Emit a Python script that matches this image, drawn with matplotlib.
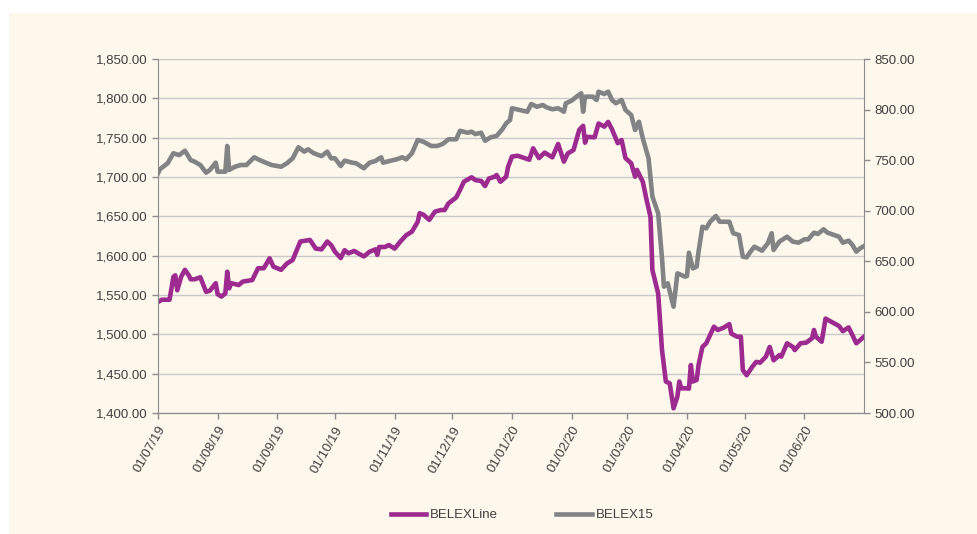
import matplotlib
matplotlib.use("Agg")
import matplotlib.pyplot as plt
import matplotlib.dates as mdates
from matplotlib.patches import Rectangle
from matplotlib.ticker import FuncFormatter, MultipleLocator
import pandas as pd

# BELEXLine (left axis)
line_dates = [
    "2019-07-01", "2019-07-03", "2019-07-07", "2019-07-09", "2019-07-10", "2019-07-11",
    "2019-07-13", "2019-07-15", "2019-07-17", "2019-07-18", "2019-07-20", "2019-07-23",
    "2019-07-26", "2019-07-28", "2019-07-31", "2019-08-01", "2019-08-03", "2019-08-05",
    "2019-08-06", "2019-08-07", "2019-08-08", "2019-08-12", "2019-08-14", "2019-08-19",
    "2019-08-22", "2019-08-25", "2019-08-28", "2019-08-30", "2019-09-03", "2019-09-06",
    "2019-09-09", "2019-09-13", "2019-09-18", "2019-09-21", "2019-09-24", "2019-09-27",
    "2019-09-29", "2019-10-01", "2019-10-04", "2019-10-06", "2019-10-08", "2019-10-11",
    "2019-10-13", "2019-10-16", "2019-10-19", "2019-10-22", "2019-10-23", "2019-10-24",
    "2019-10-27", "2019-10-29", "2019-11-01", "2019-11-04", "2019-11-07", "2019-11-10",
    "2019-11-13", "2019-11-14", "2019-11-16", "2019-11-19", "2019-11-22", "2019-11-25",
    "2019-11-27", "2019-11-29", "2019-12-03", "2019-12-05", "2019-12-07", "2019-12-11",
    "2019-12-13", "2019-12-16", "2019-12-18", "2019-12-20", "2019-12-23", "2019-12-24",
    "2019-12-26", "2019-12-29", "2019-12-30", "2020-01-01", "2020-01-04", "2020-01-10",
    "2020-01-12", "2020-01-15", "2020-01-18", "2020-01-22", "2020-01-25", "2020-01-28",
    "2020-01-30", "2020-02-02", "2020-02-05", "2020-02-07", "2020-02-08", "2020-02-09",
    "2020-02-13", "2020-02-15", "2020-02-18", "2020-02-20", "2020-02-22", "2020-02-25",
    "2020-02-27", "2020-02-29", "2020-03-03", "2020-03-05", "2020-03-06", "2020-03-09",
    "2020-03-11", "2020-03-13", "2020-03-14", "2020-03-17", "2020-03-19", "2020-03-21",
    "2020-03-23", "2020-03-25", "2020-03-27", "2020-03-28", "2020-03-29", "2020-03-31",
    "2020-04-02", "2020-04-03", "2020-04-04", "2020-04-06", "2020-04-07", "2020-04-09",
    "2020-04-11", "2020-04-13", "2020-04-15", "2020-04-17", "2020-04-20", "2020-04-23",
    "2020-04-24", "2020-04-27", "2020-04-29", "2020-04-30", "2020-05-02", "2020-05-05",
    "2020-05-07", "2020-05-09", "2020-05-12", "2020-05-14", "2020-05-16", "2020-05-19",
    "2020-05-20", "2020-05-23", "2020-05-26", "2020-05-27", "2020-05-30", "2020-06-02",
    "2020-06-05", "2020-06-06", "2020-06-07", "2020-06-10", "2020-06-12", "2020-06-15",
    "2020-06-19", "2020-06-21", "2020-06-24", "2020-06-26", "2020-06-28", "2020-06-30",
    "2020-07-02",
]
line_values = [
    1541, 1544, 1544, 1573, 1575, 1556, 1573, 1582, 1575, 1570, 1570, 1572.5,
    1554, 1555.5, 1565, 1551, 1548, 1552, 1579.6, 1558.5, 1565, 1562.7, 1567, 1569,
    1584, 1584, 1596.6, 1586, 1582, 1590, 1594.5, 1618, 1620, 1609, 1608, 1618,
    1613.5, 1605, 1597, 1607, 1603, 1606, 1603, 1599, 1605, 1608, 1601, 1611,
    1611, 1613.5, 1609, 1618, 1626, 1630.5, 1643, 1654, 1652, 1645.5, 1656, 1658,
    1658, 1666.5, 1674, 1683.5, 1694, 1699.6, 1696, 1695, 1688.5, 1698, 1700.4, 1702.5,
    1694, 1700.4, 1713, 1726, 1727, 1722, 1736.5, 1724, 1731, 1725, 1742, 1719.5,
    1730, 1734.3, 1760, 1765, 1743.6, 1751, 1750.5, 1768, 1764, 1770, 1760.6, 1743,
    1747, 1724, 1717.4, 1700.4, 1709, 1694, 1670.7, 1649.5, 1581.8, 1552, 1480, 1440,
    1437.7, 1406, 1421, 1440, 1431.4, 1431.4, 1431, 1461, 1440, 1442, 1461, 1484,
    1488.6, 1499, 1509.7, 1505.5, 1508.4, 1513, 1501, 1497, 1497, 1454.6, 1448, 1459,
    1465, 1464, 1471.6, 1484, 1467, 1473.6, 1471.6, 1488.6, 1484, 1480, 1488.6, 1489.5,
    1495, 1505.5, 1497, 1490.6, 1520, 1516, 1510.6, 1504, 1508.8, 1499, 1488.6, 1492.7,
    1497,
]

# BELEX15 (right axis)
b15_dates = [
    "2019-07-01", "2019-07-02", "2019-07-06", "2019-07-09", "2019-07-12", "2019-07-15",
    "2019-07-18", "2019-07-20", "2019-07-23", "2019-07-26", "2019-07-28", "2019-07-31",
    "2019-08-01", "2019-08-05", "2019-08-06", "2019-08-07", "2019-08-10", "2019-08-13",
    "2019-08-16", "2019-08-20", "2019-08-22", "2019-08-26", "2019-08-29", "2019-09-03",
    "2019-09-06", "2019-09-09", "2019-09-12", "2019-09-15", "2019-09-17", "2019-09-20",
    "2019-09-24", "2019-09-27", "2019-09-29", "2019-10-01", "2019-10-04", "2019-10-06",
    "2019-10-10", "2019-10-12", "2019-10-16", "2019-10-19", "2019-10-22", "2019-10-25",
    "2019-10-26", "2019-10-30", "2019-11-02", "2019-11-05", "2019-11-07", "2019-11-10",
    "2019-11-13", "2019-11-16", "2019-11-20", "2019-11-23", "2019-11-26", "2019-11-29",
    "2019-12-03", "2019-12-05", "2019-12-09", "2019-12-11", "2019-12-13", "2019-12-16",
    "2019-12-18", "2019-12-21", "2019-12-24", "2019-12-27", "2019-12-29", "2019-12-31",
    "2020-01-01", "2020-01-05", "2020-01-09", "2020-01-11", "2020-01-14", "2020-01-17",
    "2020-01-19", "2020-01-22", "2020-01-25", "2020-01-28", "2020-01-29", "2020-02-01",
    "2020-02-04", "2020-02-06", "2020-02-07", "2020-02-08", "2020-02-12", "2020-02-14",
    "2020-02-15", "2020-02-18", "2020-02-20", "2020-02-22", "2020-02-24", "2020-02-27",
    "2020-02-29", "2020-03-03", "2020-03-05", "2020-03-07", "2020-03-09", "2020-03-12",
    "2020-03-14", "2020-03-17", "2020-03-19", "2020-03-20", "2020-03-22", "2020-03-25",
    "2020-03-27", "2020-03-31", "2020-04-01", "2020-04-02", "2020-04-04", "2020-04-06",
    "2020-04-07", "2020-04-09", "2020-04-11", "2020-04-13", "2020-04-16", "2020-04-18",
    "2020-04-23", "2020-04-25", "2020-04-28", "2020-04-30", "2020-05-02", "2020-05-04",
    "2020-05-06", "2020-05-10", "2020-05-13", "2020-05-15", "2020-05-16", "2020-05-19",
    "2020-05-23", "2020-05-26", "2020-05-29", "2020-06-01", "2020-06-03", "2020-06-06",
    "2020-06-08", "2020-06-11", "2020-06-13", "2020-06-19", "2020-06-21", "2020-06-24",
    "2020-06-26", "2020-06-28", "2020-06-30", "2020-07-02",
]
b15_values = [
    737, 741, 746.9, 756.8, 755, 759.3, 750, 748.5, 745.2, 737.6, 740.3, 747.5,
    738.6, 738.6, 764, 740.3, 743.5, 745.2, 745.2, 752.8, 750.8, 747.5, 745.2, 743.5,
    746.9, 751.8, 762.7, 758.4, 760.7, 756.8, 754, 758.4, 751.8, 751.8, 744.2, 749.5,
    747.5, 746.9, 742, 747.5, 749.2, 752.8, 747.5, 749.5, 750.8, 752.8, 750.8, 756.8,
    769.9, 768.2, 764, 764, 766, 770.6, 770.6, 779, 777.1, 778.1, 775.8, 777.1,
    769.2, 772.6, 773.9, 780.5, 786.4, 789.7, 801.3, 799.6, 797.9, 805.5, 802.8, 804.5,
    802.2, 800.3, 801.3, 797.9, 806.2, 808.8, 813.4, 816.1, 797.9, 812.8, 812.8, 809.5,
    817.7, 815.4, 817.7, 809.5, 806.2, 809.5, 799.6, 794.6, 779.8, 788, 771.6, 751.8,
    713.9, 697.4, 653, 624.9, 628.2, 605.1, 638.1, 634.8, 635.5, 658.5, 643, 644.7,
    659.5, 684.2, 682.6, 689.1, 694.8, 689.1, 689.1, 677.7, 676, 654.5, 653.9, 659.5,
    664.4, 660.5, 667.8, 677.7, 661.2, 669.4, 674.3, 669.4, 668.4, 671.7, 671.7, 678.3,
    677, 681.6, 678.3, 674.3, 668.4, 670.4, 666.1, 659.5, 662.8, 665,
]

month_ticks = pd.date_range("2019-07-01", "2020-06-01", freq="MS")

bg = "#fdf7ec"
purple = "#9c2a8f"
grey = "#828385"
text_c = "#404040"

plt.rcParams["font.family"] = ["Liberation Sans", "DejaVu Sans"]

fig = plt.figure(figsize=(9.78, 5.34), dpi=100)
fig.patch.set_facecolor("white")
fig.patches.append(Rectangle((9 / 978, 0), 1, 1 - 13 / 534, transform=fig.transFigure,
                             facecolor=bg, edgecolor="none", zorder=-10))

ax = fig.add_axes([158 / 978, 121 / 534, 706 / 978, 354 / 534])
ax.set_facecolor(bg)
ax2 = ax.twinx()

l1, = ax.plot(pd.to_datetime(line_dates), line_values, color=purple, lw=3.3,
              solid_joinstyle="round", label="BELEXLine")
l2, = ax2.plot(pd.to_datetime(b15_dates), b15_values, color=grey, lw=3.3,
               solid_joinstyle="round", label="BELEX15")

ax.set_ylim(1400, 1850)
ax2.set_ylim(500, 850)
ax.set_xlim(pd.Timestamp("2019-07-01"), pd.Timestamp("2020-07-02"))

ax.yaxis.set_major_locator(MultipleLocator(50))
ax2.yaxis.set_major_locator(MultipleLocator(50))
ax.yaxis.set_major_formatter(FuncFormatter(lambda v, p: f"{v:,.2f}"))
ax2.yaxis.set_major_formatter(FuncFormatter(lambda v, p: f"{v:,.2f}"))

ax.set_xticks(month_ticks)
ax.xaxis.set_major_formatter(mdates.DateFormatter("%d/%m/%y"))
for lab in ax.get_xticklabels():
    lab.set_rotation(60)
    lab.set_ha("right")
    lab.set_va("top")
    lab.set_rotation_mode("anchor")
    lab.set_fontsize(10)

ax.grid(axis="y", color="#c9c9c9", lw=1)
ax.set_axisbelow(True)

for a in (ax, ax2):
    for s in a.spines.values():
        s.set_color("#8c8c8c")
    a.spines["top"].set_visible(False)
    a.tick_params(colors="#8c8c8c", labelcolor=text_c, labelsize=9.5, length=4, width=1)
ax2.spines["left"].set_visible(False)
ax.spines["right"].set_visible(False)
ax.tick_params(axis="x", pad=4)

leg = fig.legend(handles=[l1, l2], loc="center", bbox_to_anchor=(0.534, 0.035), ncol=2,
                 frameon=False, fontsize=9.5, handlelength=2.7, columnspacing=4.4,
                 handletextpad=0.3)
for t in leg.get_texts():
    t.set_color(text_c)

fig.savefig("out.png", dpi=100, facecolor=fig.get_facecolor())
